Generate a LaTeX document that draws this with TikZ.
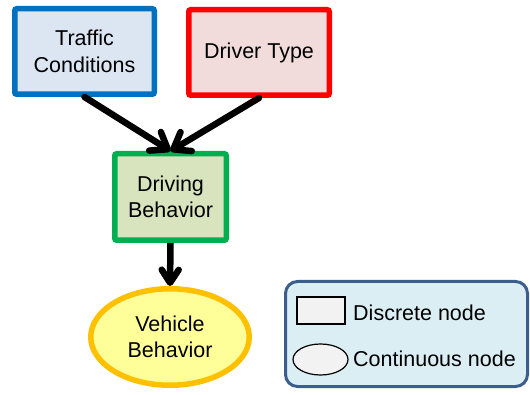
\documentclass[tikz,border=0pt]{standalone}
\usepackage{fontspec}
\setmainfont{Liberation Sans}
\usepackage{tikz}
\usetikzlibrary{shapes,arrows,positioning,calc,arrows.meta}
\definecolor{trafficblue}{RGB}{0,112,192}
\definecolor{trafficfill}{RGB}{220,230,242}
\definecolor{driverred}{RGB}{255,0,0}
\definecolor{driverfill}{RGB}{242,220,219}
\definecolor{behaviorgreen}{RGB}{0,176,80}
\definecolor{behaviorfill}{RGB}{215,228,189}
\definecolor{vehiclegold}{RGB}{255,192,0}
\definecolor{vehiclefill}{RGB}{255,255,153}
\definecolor{legendblue}{RGB}{60,94,140}
\definecolor{legendfill}{RGB}{219,238,244}
\definecolor{shapegray}{RGB}{242,242,242}

\begin{document}
\begin{tikzpicture}[x=1pt,y=-1pt,
    every node/.style={font=\fontsize{21.5}{26.5}\selectfont, align=center},
    discrete/.style={rectangle, rounded corners=2pt, line width=5.5pt, inner sep=0pt},
    continuous/.style={ellipse, line width=5.5pt, inner sep=0pt},
    influence/.style={line width=6.5pt, line cap=round, -{Straight Barb[length=15pt,width=22pt,round]}},
    effect/.style={line width=6.5pt, -{Straight Barb[length=13pt,width=17pt,round]}}]
    \useasboundingbox (0,0) rectangle (530,395);

    % Network nodes
    \node[discrete, draw=trafficblue, fill=trafficfill, minimum width=139.5pt, minimum height=85.5pt] (traffic) at (84.5,51.5) {Traffic\\Conditions};
    \node[discrete, draw=driverred, fill=driverfill, minimum width=140.5pt, minimum height=85.5pt] (driver) at (259,52.5) {Driver Type};
    \node[discrete, draw=behaviorgreen, fill=behaviorfill, minimum width=111.5pt, minimum height=86.5pt] (driving) at (170.5,197) {Driving\\Behavior};
    \node[continuous, draw=vehiclegold, fill=vehiclefill, minimum width=158.5pt, minimum height=96.5pt] (vehicle) at (170,337) {Vehicle\\Behavior};

    % Links
    \draw[influence] (traffic.south) -- (driving.north);
    \draw[influence] (driver.south) -- (driving.north);
    \draw[effect] (driving.south) -- (vehicle.north);

    % Legend
    \node[draw=legendblue, fill=legendfill, line width=3pt, rounded corners=12pt, minimum width=242pt, minimum height=105pt] (legend) at (406.5,334) {};
    \node[draw=black, fill=shapegray, line width=1.2pt, minimum width=48pt, minimum height=27pt, inner sep=0pt] (keybox) at (321,310.5) {};
    \node[draw=black, fill=shapegray, line width=1.2pt, ellipse, minimum width=55pt, minimum height=31pt, inner sep=0pt] (keyellipse) at (320.5,359.5) {};
    \node[anchor=west, inner sep=0pt] (keyboxtext) at (353,313) {Discrete node};
    \node[anchor=west, inner sep=0pt] (keyellipsetext) at (353,359) {Continuous node};
\end{tikzpicture}
\end{document}
